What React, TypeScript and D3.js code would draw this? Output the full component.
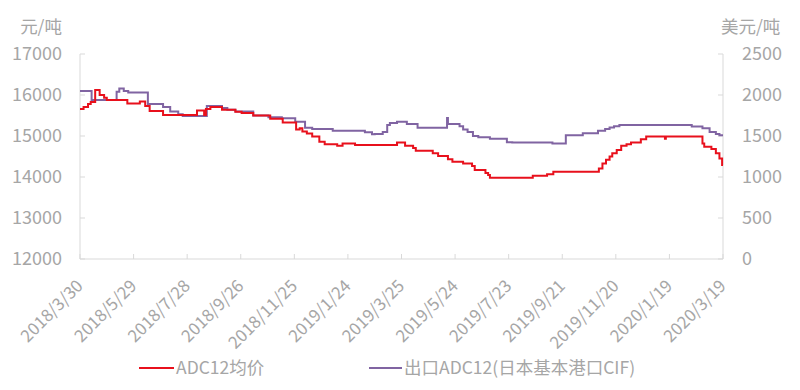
import React from "react";
import * as d3 from "d3";

// ADC12 domestic average price (元/吨), step changes
const adc12Avg: [string, number][] = [
  ["2018-03-30", 15660], ["2018-04-03", 15710], ["2018-04-08", 15780], ["2018-04-11", 15830],
  ["2018-04-16", 16120], ["2018-04-21", 16000], ["2018-04-26", 15930], ["2018-04-29", 15880],
  ["2018-05-22", 15790], ["2018-06-05", 15840], ["2018-06-11", 15730], ["2018-06-16", 15610],
  ["2018-07-01", 15510], ["2018-08-08", 15620], ["2018-08-16", 15510], ["2018-08-18", 15660],
  ["2018-08-23", 15710], ["2018-09-05", 15640], ["2018-09-20", 15590], ["2018-09-27", 15560],
  ["2018-10-10", 15500], ["2018-10-29", 15420], ["2018-11-12", 15330], ["2018-11-27", 15160],
  ["2018-12-01", 15190], ["2018-12-04", 15110], ["2018-12-09", 15060], ["2018-12-15", 14990],
  ["2018-12-23", 14860], ["2018-12-29", 14800], ["2019-01-12", 14760], ["2019-01-18", 14820],
  ["2019-02-01", 14780], ["2019-03-20", 14840], ["2019-03-29", 14760], ["2019-04-07", 14710],
  ["2019-04-10", 14640], ["2019-04-29", 14580], ["2019-05-05", 14510], ["2019-05-16", 14430],
  ["2019-05-21", 14370], ["2019-06-02", 14330], ["2019-06-12", 14270], ["2019-06-15", 14170],
  ["2019-06-27", 14100], ["2019-06-30", 14050], ["2019-07-02", 13980], ["2019-08-19", 14030],
  ["2019-09-04", 14070], ["2019-09-11", 14130], ["2019-11-01", 14210], ["2019-11-05", 14330],
  ["2019-11-09", 14420], ["2019-11-13", 14500], ["2019-11-16", 14580], ["2019-11-21", 14660],
  ["2019-11-26", 14760], ["2019-12-02", 14800], ["2019-12-07", 14840], ["2019-12-18", 14920],
  ["2019-12-24", 14990], ["2020-01-14", 14930], ["2020-01-15", 14990], ["2020-02-25", 14820],
  ["2020-02-27", 14740], ["2020-03-06", 14680], ["2020-03-11", 14580], ["2020-03-15", 14450],
  ["2020-03-18", 14290], ["2020-03-19", 14290],
];

// export ADC12 (Japan main port CIF), 美元/吨
const adc12Export: [string, number][] = [
  ["2018-03-30", 2050], ["2018-04-12", 1940], ["2018-05-10", 2040], ["2018-05-13", 2080],
  ["2018-05-18", 2050], ["2018-05-23", 2030], ["2018-06-14", 1890], ["2018-07-01", 1855],
  ["2018-07-09", 1800], ["2018-07-18", 1765], ["2018-07-23", 1745], ["2018-08-19", 1865],
  ["2018-09-05", 1840], ["2018-09-11", 1820], ["2018-09-20", 1800], ["2018-10-10", 1750],
  ["2018-10-27", 1730], ["2018-11-11", 1715], ["2018-11-26", 1675], ["2018-12-07", 1600],
  ["2018-12-15", 1585], ["2019-01-07", 1565], ["2019-02-12", 1545], ["2019-02-20", 1520],
  ["2019-02-23", 1525], ["2019-03-04", 1550], ["2019-03-09", 1635], ["2019-03-12", 1660],
  ["2019-03-20", 1675], ["2019-03-31", 1645], ["2019-04-12", 1600], ["2019-05-15", 1720],
  ["2019-05-16", 1645], ["2019-05-29", 1620], ["2019-06-02", 1580], ["2019-06-07", 1550],
  ["2019-06-13", 1500], ["2019-06-19", 1485], ["2019-07-02", 1465], ["2019-07-21", 1425],
  ["2019-07-27", 1420], ["2019-09-10", 1410], ["2019-09-25", 1510], ["2019-10-14", 1535],
  ["2019-10-31", 1565], ["2019-11-08", 1585], ["2019-11-13", 1605], ["2019-11-18", 1620],
  ["2019-11-24", 1635], ["2020-02-13", 1615], ["2020-02-25", 1595], ["2020-03-04", 1550],
  ["2020-03-11", 1525], ["2020-03-15", 1510], ["2020-03-19", 1510],
];

const xTickLabels = [
  "2018/3/30", "2018/5/29", "2018/7/28", "2018/9/26", "2018/11/25", "2019/1/24", "2019/3/25",
  "2019/5/24", "2019/7/23", "2019/9/21", "2019/11/20", "2020/1/19", "2020/3/19",
];
const leftTicks = [12000, 13000, 14000, 15000, 16000, 17000];
const rightTicks = [0, 500, 1000, 1500, 2000, 2500];
const seriesNames = ["ADC12均价", "出口ADC12(日本基本港口CIF)"];

const width = 800;
const height = 390;
const left = 80;
const right = 723;
const top = 54;
const bottom = 259;
const font = "'Noto Sans CJK SC', 'Noto Sans', sans-serif";
const grey = "#a6a6a6";
const axisColor = "#d9d9d9";
const red = "#e8101c";
const purple = "#8064a2";

const parseDash = d3.timeParse("%Y-%m-%d");
const parseSlash = d3.timeParse("%Y/%m/%d");

export default function App() {
  const tickDates = xTickLabels.map((s) => parseSlash(s) as Date);
  const x = d3
    .scaleTime()
    .domain([tickDates[0], tickDates[tickDates.length - 1]])
    .range([left, right]);
  const yL = d3.scaleLinear().domain([12000, 17000]).range([bottom, top]);
  const yR = d3.scaleLinear().domain([0, 2500]).range([bottom, top]);

  const lineL = d3
    .line<[string, number]>()
    .x((d) => x(parseDash(d[0]) as Date))
    .y((d) => yL(d[1]))
    .curve(d3.curveStepAfter);
  const lineR = d3
    .line<[string, number]>()
    .x((d) => x(parseDash(d[0]) as Date))
    .y((d) => yR(d[1]))
    .curve(d3.curveStepAfter);

  return (
    <svg
      width={width}
      height={height}
      style={{ position: "absolute", left: 0, top: 0, background: "#fff" }}
      fontFamily={font}
    >
      {/* axes */}
      <line x1={left} x2={left} y1={top} y2={bottom} stroke={axisColor} />
      <line x1={right} x2={right} y1={top} y2={bottom} stroke={axisColor} />
      <line x1={left} x2={right} y1={bottom} y2={bottom} stroke={axisColor} />
      {leftTicks.map((t) => (
        <g key={"l" + t}>
          <line x1={left} x2={left + 5} y1={yL(t)} y2={yL(t)} stroke={axisColor} />
          <text x={62} y={yL(t)} dy="0.35em" textAnchor="end" fontSize={18} fill={grey}>
            {t}
          </text>
        </g>
      ))}
      {rightTicks.map((t) => (
        <g key={"r" + t}>
          <line x1={right - 5} x2={right} y1={yR(t)} y2={yR(t)} stroke={axisColor} />
          <text x={742} y={yR(t)} dy="0.35em" textAnchor="start" fontSize={18} fill={grey}>
            {t}
          </text>
        </g>
      ))}
      {tickDates.map((d, i) => (
        <g key={"x" + i}>
          <line x1={x(d)} x2={x(d)} y1={bottom} y2={bottom - 5} stroke={axisColor} />
          <text
            transform={`translate(${x(d) + 4}, ${bottom + 28}) rotate(-45)`}
            textAnchor="end"
            fontSize={17}
            fill={grey}
          >
            {xTickLabels[i]}
          </text>
        </g>
      ))}
      <text x={62} y={33} textAnchor="end" fontSize={17.5} fill={grey}>
        元/吨
      </text>
      <text x={721} y={33} textAnchor="start" fontSize={17.5} fill={grey}>
        美元/吨
      </text>

      {/* series */}
      <path d={lineR(adc12Export) ?? ""} fill="none" stroke={purple} strokeWidth={2} />
      <path d={lineL(adc12Avg) ?? ""} fill="none" stroke={red} strokeWidth={2} />

      {/* legend */}
      <line x1={139} x2={174} y1={368} y2={368} stroke={red} strokeWidth={2} />
      <text x={176} y={368} dy="0.35em" fontSize={17.5} fill={grey}>
        {seriesNames[0]}
      </text>
      <line x1={369} x2={402} y1={368} y2={368} stroke={purple} strokeWidth={2} />
      <text x={404} y={368} dy="0.35em" fontSize={17.5} fill={grey}>
        {seriesNames[1]}
      </text>
    </svg>
  );
}
